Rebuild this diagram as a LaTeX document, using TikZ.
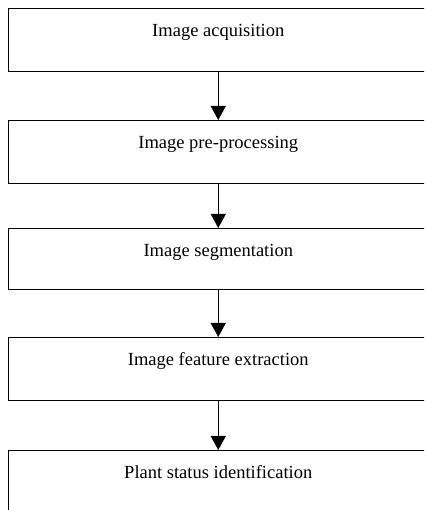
\documentclass[tikz,border=0pt]{standalone}
\usepackage{fontspec}
\setmainfont{Liberation Serif}
\usetikzlibrary{arrows.meta}
\begin{document}
\begin{tikzpicture}[x=1pt,y=1pt,
  stepbox/.style={draw=black, line width=1.3pt, fill=white, rectangle, inner sep=0pt,
    minimum width=419.5pt, text height=28pt, text depth=35pt, anchor=north,
    font=\fontsize{18.5pt}{22pt}\selectfont},
  conn/.style={line width=1.3pt, -{Triangle[width=15pt,length=14pt]}}]
\clip (0,0) rectangle (424,510);
\node[stepbox] (b1) at (218.25,502) {Image acquisition};
\node[stepbox] (b2) at (218.25,390) {Image pre-processing};
\node[stepbox, text depth=33pt] (b3) at (218.25,282) {Image segmentation};
\node[stepbox] (b4) at (218.25,173) {Image feature extraction};
\node[stepbox, text depth=45pt] (b5) at (218.25,60) {Plant status identification};
\draw[conn] (b1.south) -- (b2.north);
\draw[conn] (b2.south) -- (b3.north);
\draw[conn] (b3.south) -- (b4.north);
\draw[conn] (b4.south) -- (b5.north);
\end{tikzpicture}
\end{document}
